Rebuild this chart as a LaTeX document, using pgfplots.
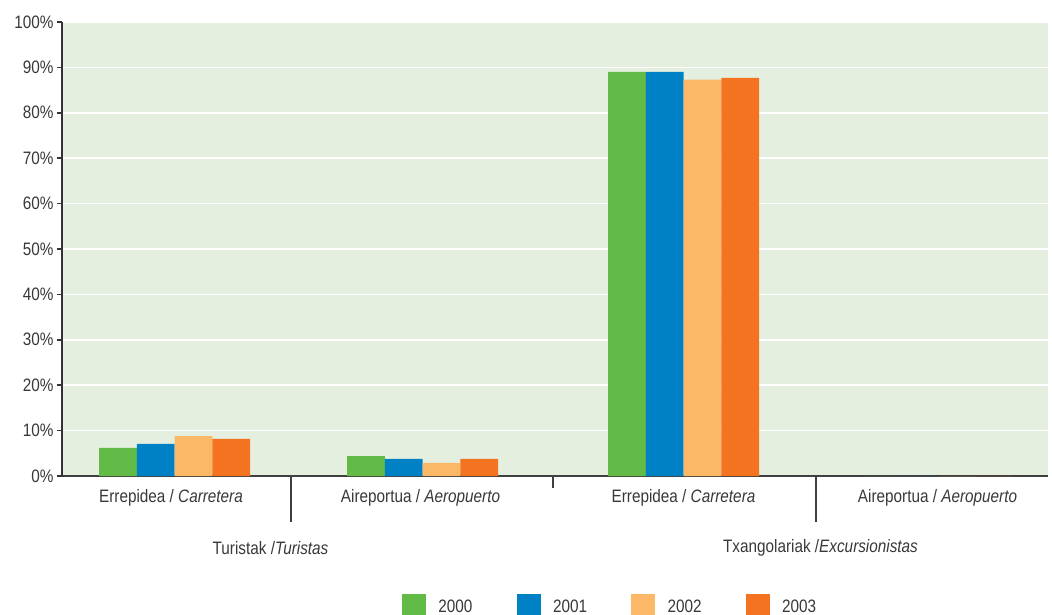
\documentclass[border=0pt]{standalone}
\usepackage{pgfplots}
\pgfplotsset{compat=1.18}
\usepackage{fontspec}
\setmainfont{Liberation Sans}[FakeStretch=0.85]
\definecolor{bgc}{HTML}{E5EFDF}
\definecolor{cA}{HTML}{62BB46}
\definecolor{cB}{HTML}{0081C6}
\definecolor{cC}{HTML}{FBB867}
\definecolor{cD}{HTML}{F37321}
\definecolor{txt}{HTML}{383838}
\newcommand{\fs}{\fontsize{18}{21}\selectfont}
\begin{document}
\begin{tikzpicture}[font=\fs, text=txt]
\useasboundingbox (-62pt,-139pt) rectangle (990pt,476pt);
\begin{axis}[
  at={(0,0)}, anchor=south west,
  scale only axis, width=985.7pt, height=454pt,
  xmin=0, xmax=985.7, ymin=0, ymax=100,
  axis lines*=left,
  axis background/.style={fill=bgc},
  x axis line style={draw=black!75, line width=1.5pt},
  y axis line style={draw=black!80, line width=2pt},
  tick align=outside,
  ytick={0,10,...,100},
  yticklabel={\pgfmathprintnumber{\tick}\%},
  yticklabel style={font=\fs, text=txt, inner xsep=4pt},
  /pgf/number format/assume math mode=true,
  ymajorgrids, grid style={draw=white, line width=1.5pt},
  ytick style={draw=black!80, line width=1.5pt, /pgfplots/major tick length=5pt},
  xtick={229,754}, xticklabels={},
  xtick style={draw=black!75, line width=1.5pt, /pgfplots/major tick length=46pt},
  extra x ticks={491}, extra x tick labels={},
  extra x tick style={xmajorgrids=false, xtick style={draw=black!75, line width=1.5pt, /pgfplots/major tick length=12pt}},
  ybar, bar width=37.75,
  legend columns=4,
  legend style={at={(0.3449,-0.2599)}, anchor=north west, draw=none, fill=none,
    inner sep=0pt, outer sep=0pt, font=\fs, text=txt,
    nodes={inner sep=0pt}, cells={anchor=base west},
    /tikz/every odd column/.append style={column sep=12.5pt},
    /tikz/every even column/.append style={column sep=44pt}},
  legend image code/.code={\fill[#1] (0pt,-4pt) rectangle (24pt,18.5pt);},
  clip=false,
]
\addplot[fill=cA, draw=none, bar shift=-56.625] coordinates {(112.5,6.17) (360.5,4.4) (621.5,89.0) (876,0)};
\addplot[fill=cB, draw=none, bar shift=-18.875] coordinates {(112.5,7.05) (360.5,3.75) (621.5,89.0) (876,0)};
\addplot[fill=cC, draw=none, bar shift=18.875] coordinates {(112.5,8.8) (360.5,2.87) (621.5,87.3) (876,0)};
\addplot[fill=cD, draw=none, bar shift=56.625] coordinates {(112.5,8.15) (360.5,3.75) (621.5,87.7) (876,0)};
\legend{2000,2001,2002,2003}
\node[font=\fs, text=txt] at (axis cs:109,0) [yshift=-22pt] {Errepidea / \textit{Carretera}};
\node[font=\fs, text=txt] at (axis cs:358.5,0) [yshift=-22pt] {Aireportua / \textit{Aeropuerto}};
\node[font=\fs, text=txt] at (axis cs:621.5,0) [yshift=-22pt] {Errepidea / \textit{Carretera}};
\node[font=\fs, text=txt] at (axis cs:875.5,0) [yshift=-22pt] {Aireportua / \textit{Aeropuerto}};
\node[font=\fs, text=txt] at (axis cs:208.5,0) [yshift=-72pt] {Turistak /\textit{Turistas}};
\node[font=\fs, text=txt] at (axis cs:758.5,0) [yshift=-72pt] {Txangolariak /\textit{Excursionistas}};
\end{axis}
\end{tikzpicture}
\end{document}
